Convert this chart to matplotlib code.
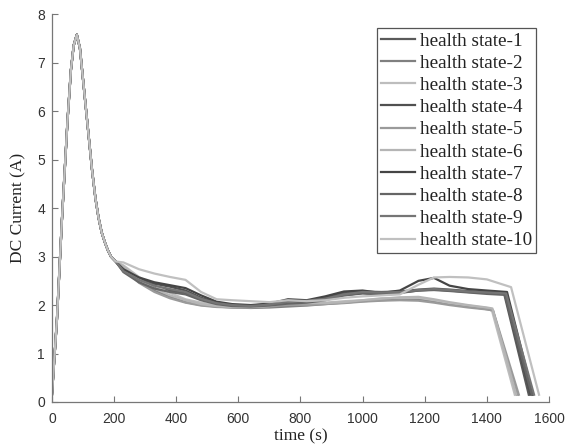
import matplotlib
matplotlib.use("Agg")
import matplotlib.pyplot as plt

# common rising / falling part of every run (s, A)
t_head = [0, 16, 32, 50, 61, 70, 80, 90, 97, 113, 129, 140, 150, 160, 170, 180, 190, 205]
y_head = [0.15, 1.7, 3.75, 5.8, 6.85, 7.36, 7.58, 7.3, 6.85, 5.82, 4.79, 4.2,
          3.8, 3.5, 3.3, 3.13, 3.0, 2.9]

# body of each run after t=205 s
t_body = [230, 280, 330, 380, 430, 480, 530, 580, 640, 700, 760, 820,
          880, 940, 1000, 1060, 1120, 1180, 1230, 1280, 1340]

hs1 = [2.7, 2.5, 2.37, 2.3, 2.24, 2.12, 2.03, 1.99, 1.98, 2.0, 2.05, 2.08,
       2.15, 2.25, 2.28, 2.27, 2.28, 2.32, 2.34, 2.32, 2.29]
hs2 = [2.78, 2.5, 2.3, 2.17, 2.06, 2.0, 1.97, 1.95, 1.94, 1.95, 1.97, 1.99,
       2.02, 2.05, 2.08, 2.1, 2.12, 2.12, 2.08, 2.02, 1.97]
hs3 = [2.82, 2.58, 2.4, 2.25, 2.12, 2.05, 2.0, 1.98, 1.97, 1.99, 2.02, 2.03,
       2.05, 2.08, 2.1, 2.14, 2.15, 2.15, 2.1, 2.04, 1.99]
hs4 = [2.72, 2.55, 2.44, 2.38, 2.3, 2.15, 2.05, 2.0, 1.99, 2.02, 2.1, 2.06,
       2.12, 2.2, 2.24, 2.22, 2.25, 2.3, 2.32, 2.3, 2.27]
hs5 = [2.75, 2.46, 2.27, 2.14, 2.05, 1.99, 1.96, 1.95, 1.95, 1.97, 2.0, 2.0,
       2.02, 2.04, 2.07, 2.09, 2.1, 2.09, 2.05, 2.0, 1.95]
hs6 = [2.8, 2.53, 2.34, 2.2, 2.1, 2.02, 1.98, 1.96, 1.96, 1.98, 2.05, 2.04,
       2.04, 2.06, 2.1, 2.13, 2.16, 2.17, 2.12, 2.06, 2.0]
hs7 = [2.74, 2.57, 2.47, 2.41, 2.35, 2.2, 2.07, 2.02, 2.0, 2.03, 2.12, 2.1,
       2.18, 2.28, 2.3, 2.25, 2.3, 2.5, 2.56, 2.4, 2.33]
hs8 = [2.68, 2.47, 2.34, 2.27, 2.22, 2.1, 2.02, 1.98, 1.97, 1.99, 2.03, 2.05,
       2.1, 2.2, 2.25, 2.24, 2.26, 2.3, 2.31, 2.29, 2.26]
hs9 = [2.7, 2.52, 2.4, 2.33, 2.27, 2.13, 2.04, 2.0, 1.98, 2.01, 2.07, 2.09,
       2.13, 2.22, 2.27, 2.26, 2.27, 2.31, 2.33, 2.31, 2.28]
hs10 = [2.88, 2.74, 2.65, 2.58, 2.52, 2.27, 2.12, 2.1, 2.08, 2.06, 2.1, 2.08,
        2.1, 2.15, 2.18, 2.2, 2.22, 2.42, 2.57, 2.58, 2.57]

# end of discharge: knee times / values, then cut-off
tails = {
    1: ([1400, 1455, 1535], [2.27, 2.25, 0.15]),
    2: ([1405, 1420, 1497], [1.91, 1.88, 0.15]),
    3: ([1400, 1415, 1490], [1.94, 1.92, 0.15]),
    4: ([1400, 1460, 1540], [2.25, 2.23, 0.15]),
    5: ([1400, 1420, 1503], [1.91, 1.89, 0.15]),
    6: ([1400, 1418, 1495], [1.95, 1.93, 0.15]),
    7: ([1400, 1465, 1548], [2.3, 2.27, 0.15]),
    8: ([1400, 1458, 1545], [2.23, 2.21, 0.15]),
    9: ([1400, 1462, 1552], [2.26, 2.24, 0.15]),
    10: ([1400, 1478, 1568], [2.53, 2.37, 0.15]),
}

series = [hs1, hs2, hs3, hs4, hs5, hs6, hs7, hs8, hs9, hs10]
colors = ["#5a5a5a", "#808080", "#bdbdbd", "#505050", "#9a9a9a",
          "#b5b5b5", "#454545", "#656565", "#757575", "#c0c0c0"]

fig = plt.figure(figsize=(5.71, 4.47), dpi=100)
ax = fig.add_axes([0.0910, 0.1007, 0.8704, 0.8673])

for i, body in enumerate(series):
    tt, yt = tails[i + 1]
    t = t_head + t_body + tt
    y = y_head + body + yt
    ax.plot(t, y, color=colors[i], lw=1.6, label=f"health state-{i + 1}")

ax.set_xlim(0, 1600)
ax.set_ylim(0, 8)
ax.set_xticks(range(0, 1601, 200))
ax.set_yticks(range(0, 9))
for s in ["top", "right"]:
    ax.spines[s].set_visible(False)
for s in ["left", "bottom"]:
    ax.spines[s].set_color("#777777")
    ax.spines[s].set_linewidth(0.9)
ax.tick_params(direction="in", length=4, width=0.8, color="#777777",
               labelsize=10, labelcolor="#333333")
ax.tick_params(axis="x", pad=7)
ax.tick_params(axis="y", pad=5)
for lab in ax.get_xticklabels() + ax.get_yticklabels():
    lab.set_fontfamily("Liberation Sans")

ax.set_xlabel("time (s)", fontfamily="Liberation Serif", fontsize=12.5,
              color="#222222", labelpad=2)
ax.set_ylabel("DC Current (A)", fontfamily="Liberation Serif", fontsize=12.5,
              color="#222222", labelpad=8)

leg = ax.legend(loc="upper right", bbox_to_anchor=(0.974, 0.964),
                borderaxespad=0, fancybox=False, framealpha=1,
                prop={"family": "Liberation Serif", "size": 13.8},
                handlelength=1.8, handletextpad=0.25, labelspacing=0.25,
                borderpad=0.2)
leg.get_frame().set_edgecolor("#555555")
leg.get_frame().set_linewidth(0.9)
for txt in leg.get_texts():
    txt.set_color("#222222")

fig.savefig("out.png", dpi=100)
